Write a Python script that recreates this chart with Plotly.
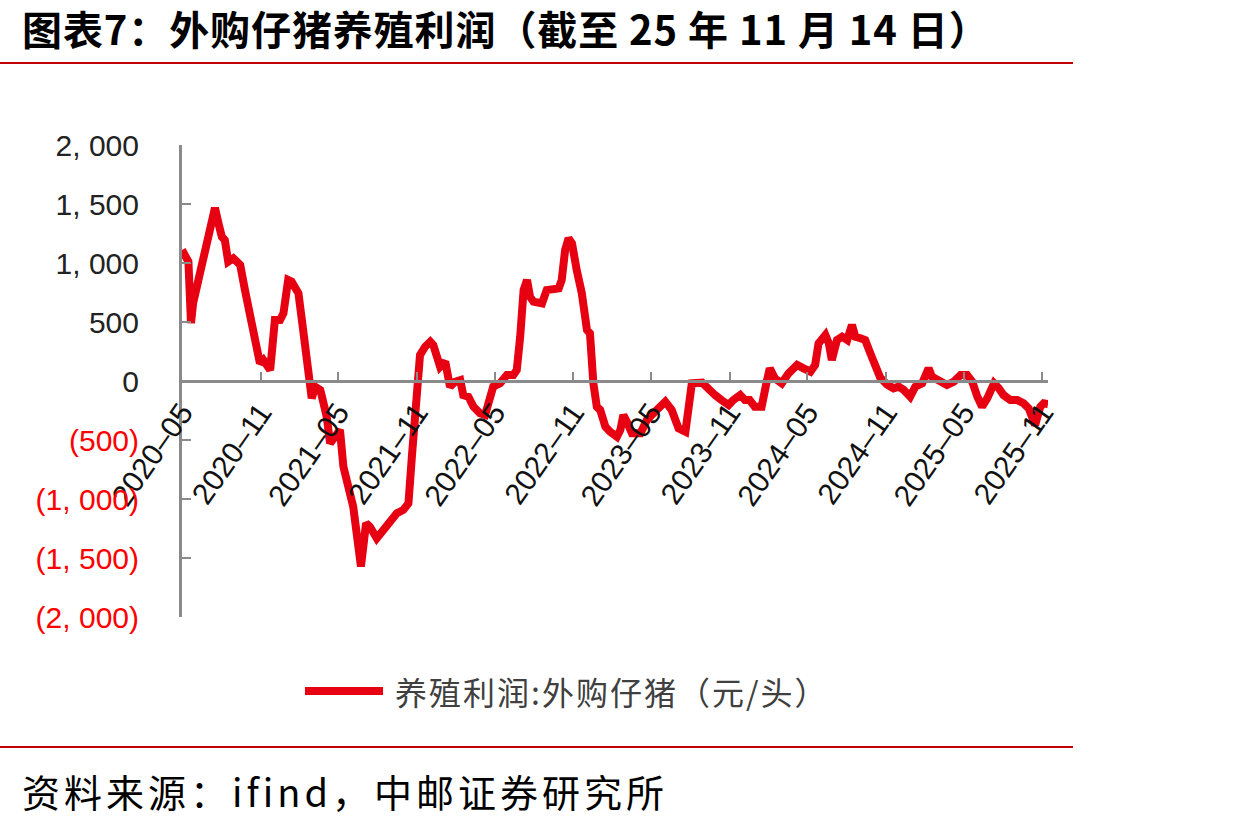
import plotly.graph_objects as go

# ---------------- data ----------------
dates = [
    "2020-05-01", "2020-05-16", "2020-05-22", "2020-05-27", "2020-06-12", "2020-06-28",
    "2020-07-09", "2020-07-17", "2020-07-25", "2020-08-02", "2020-08-09", "2020-08-17",
    "2020-08-29", "2020-09-14", "2020-09-25", "2020-10-07", "2020-10-19", "2020-10-30",
    "2020-11-07", "2020-11-23", "2020-12-04", "2020-12-16", "2020-12-24", "2021-01-04",
    "2021-01-12", "2021-01-28", "2021-02-08", "2021-02-20", "2021-02-28", "2021-03-08",
    "2021-03-20", "2021-03-24", "2021-04-04", "2021-04-12", "2021-04-24", "2021-05-05",
    "2021-05-13", "2021-05-25", "2021-06-05", "2021-06-13", "2021-06-23", "2021-07-05",
    "2021-07-14", "2021-07-30", "2021-08-14", "2021-08-30", "2021-09-15", "2021-09-30",
    "2021-10-12", "2021-10-20", "2021-10-28", "2021-11-04", "2021-11-08", "2021-11-20",
    "2021-12-02", "2021-12-09", "2021-12-17", "2021-12-25", "2022-01-06", "2022-01-17",
    "2022-01-29", "2022-02-10", "2022-02-17", "2022-03-01", "2022-03-13", "2022-03-28",
    "2022-04-09", "2022-04-17", "2022-04-28", "2022-05-14", "2022-05-30", "2022-06-14",
    "2022-06-22", "2022-06-30", "2022-07-08", "2022-07-16", "2022-07-23", "2022-07-31",
    "2022-08-20", "2022-08-31", "2022-09-12", "2022-09-28", "2022-10-05", "2022-10-13",
    "2022-10-21", "2022-10-29", "2022-11-09", "2022-11-21", "2022-12-03", "2022-12-10",
    "2022-12-18", "2022-12-26", "2023-01-03", "2023-01-15", "2023-01-26", "2023-02-11",
    "2023-02-19", "2023-02-26", "2023-03-06", "2023-03-18", "2023-04-07", "2023-04-22",
    "2023-05-15", "2023-06-04", "2023-06-19", "2023-07-05", "2023-07-21", "2023-08-05",
    "2023-08-29", "2023-09-13", "2023-09-28", "2023-10-13", "2023-10-30", "2023-11-10",
    "2023-11-26", "2023-12-07", "2023-12-18", "2023-12-30", "2024-01-15", "2024-01-26",
    "2024-02-03", "2024-02-15", "2024-03-02", "2024-03-18", "2024-04-07", "2024-04-22",
    "2024-05-08", "2024-05-19", "2024-05-27", "2024-06-12", "2024-06-20", "2024-06-27",
    "2024-07-09", "2024-07-21", "2024-08-02", "2024-08-13", "2024-08-21", "2024-09-02",
    "2024-09-13", "2024-09-25", "2024-10-07", "2024-10-18", "2024-11-03", "2024-11-18",
    "2024-11-30", "2024-12-12", "2024-12-27", "2025-01-08", "2025-01-24", "2025-02-08",
    "2025-02-16", "2025-03-04", "2025-03-23", "2025-04-08", "2025-04-24", "2025-05-09",
    "2025-05-21", "2025-06-02", "2025-06-13", "2025-06-25", "2025-07-11", "2025-07-22",
    "2025-08-02", "2025-08-18", "2025-09-03", "2025-09-18", "2025-09-30", "2025-10-15",
    "2025-10-27", "2025-11-04", "2025-11-14",
]
profit = [
    1110, 1011, 491, 660, 915, 1169,
    1407, 1466, 1339, 1223, 1195, 1011,
    1040, 983, 771, 545, 347, 150,
    178, 93, 517, 517, 574, 856,
    842, 743, 432, 150, -147, -48,
    -76, -133, -302, -528, -472, -415,
    -726, -896, -1065, -1291, -1573, -1206,
    -1235, -1333, -1263, -1206, -1121, -1093,
    -1037, -641, -300, -20, 220, 291,
    333, 305, 178, 121, 164, -48,
    -6, 8, -119, -133, -218, -274,
    -288, -161, -48, -20, 51, 51,
    93, 375, 771, 856, 714, 672,
    658, 771, 771, 785, 856, 1110,
    1209, 1167, 941, 743, 432, 404,
    -20, -218, -246, -387, -430, -472,
    -415, -288, -345, -443, -443, -330,
    -246, -175, -246, -401, -430, -20,
    -14, -76, -119, -161, -203, -161,
    -119, -161, -161, -218, -218, -20,
    107, 22, -20, 65, 136, 107,
    79, 136, 319, 390, 319, 178,
    347, 375, 347, 475, 375, 362,
    347, 234, 121, 30, -30, -62,
    -48, -76, -133, -48, -20, 107,
    36, 8, -34, -6, 51, 51,
    -6, -133, -218, -147, -20, -62,
    -119, -161, -161, -189, -232, -373,
    -218, -189, -195,
]

x_tick_dates = ["2020-05-01", "2020-11-01", "2021-05-01", "2021-11-01", "2022-05-01",
                "2022-11-01", "2023-05-01", "2023-11-01", "2024-05-01", "2024-11-01",
                "2025-05-01", "2025-11-01"]
x_tick_labels = ["2020–05", "2020–11", "2021–05", "2021–11", "2022–05", "2022–11",
                 "2023–05", "2023–11", "2024–05", "2024–11", "2025–05", "2025–11"]
y_tick_vals = [2000, 1500, 1000, 500, 0, -500, -1000, -1500, -2000]
y_tick_labels = ["2, 000", "1, 500", "1, 000", "500", "0", "(500)", "(1, 000)", "(1, 500)", "(2, 000)"]

series_name = "养殖利润:外购仔猪（元/头）"
title_text = "图表7：外购仔猪养殖利润（截至 25 年 11 月 14 日）"
source_text = "资料来源：ifind，中邮证券研究所"

# ---------------- layout helpers ----------------
W, H = 1253, 822
L, R, T, B = 182, 205, 145, 205
PW, PH = W - L - R, H - T - B


def px(x):
    return (x - L) / PW


def py(y):
    return (H - B - y) / PH


LINE_RED = "#e60012"
AXIS_GREY = "#8a8a8a"
CJK = "Noto Sans CJK SC"
NUM = "Liberation Sans, Arial, Noto Sans CJK SC"

ytext = [
    (f'<span style="color:#ff0000">{t}</span>' if v < 0 else t)
    for v, t in zip(y_tick_vals, y_tick_labels)
]

fig = go.Figure()
fig.add_trace(go.Scatter(
    x=dates, y=profit, mode="lines", name=series_name,
    line=dict(color=LINE_RED, width=8), showlegend=False,
))

fig.update_layout(
    width=W, height=H,
    margin=dict(l=L, r=R, t=T, b=B),
    paper_bgcolor="white", plot_bgcolor="white",
    xaxis=dict(
        type="date",
        range=["2020-05-01", "2025-11-14"],
        anchor="free", position=0.5,
        showline=True, linecolor=AXIS_GREY, linewidth=3,
        showgrid=False, zeroline=False,
        ticks="inside", ticklen=8, tickwidth=2, tickcolor=AXIS_GREY,
        tickmode="array", tickvals=x_tick_dates, ticktext=x_tick_labels,
        tickangle=-55,
        tickfont=dict(family=NUM, size=30, color="#111111"),
    ),
    yaxis=dict(
        range=[-2000, 2000],
        showline=True, linecolor=AXIS_GREY, linewidth=3,
        showgrid=False, zeroline=False,
        ticks="inside", ticklen=9, tickwidth=2, tickcolor=AXIS_GREY,
        tickmode="array", tickvals=y_tick_vals, ticktext=ytext,
        ticklabelstandoff=34,
        tickfont=dict(family=NUM, size=30, color="#222222"),
    ),
    shapes=[
        dict(type="line", xref="paper", yref="paper", x0=px(0), x1=px(1073), y0=py(63), y1=py(63),
             line=dict(color="#c00000", width=2)),
        dict(type="line", xref="paper", yref="paper", x0=px(0), x1=px(1073), y0=py(747), y1=py(747),
             line=dict(color="#c00000", width=2)),
        dict(type="line", xref="paper", yref="paper", x0=px(305), x1=px(383), y0=py(691), y1=py(691),
             line=dict(color=LINE_RED, width=8)),
    ],
    annotations=[
        dict(xref="paper", yref="paper", x=px(20), y=py(28), xanchor="left", yanchor="middle",
             text=f'<span style="letter-spacing:0.9px"><b>{title_text}</b></span>', showarrow=False,
             font=dict(family=CJK, size=40, color="#000000")),
        dict(xref="paper", yref="paper", x=px(393), y=py(691), xanchor="left", yanchor="middle",
             text=f'<span style="letter-spacing:2px">{series_name}</span>', showarrow=False,
             font=dict(family=CJK, size=32, color="#404040")),
        dict(xref="paper", yref="paper", x=px(20), y=py(790), xanchor="left", yanchor="middle",
             text=f'<span style="letter-spacing:4px">{source_text}</span>', showarrow=False,
             font=dict(family=CJK, size=38, color="#000000")),
    ],
)

fig.write_html("out.html")
